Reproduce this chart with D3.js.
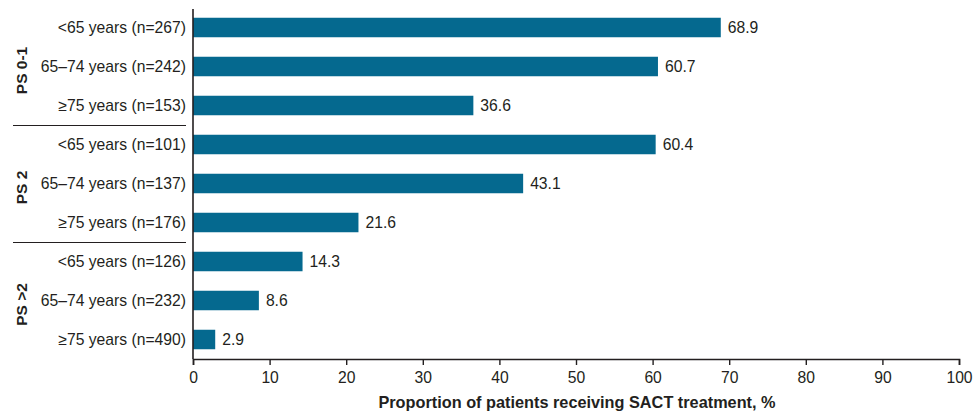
<!DOCTYPE html>
<html><head><meta charset="utf-8">
<script src="https://cdn.jsdelivr.net/npm/d3@7"></script>
<style>
body{margin:0;background:#fff;}
text{font-family:"Liberation Sans",Arial,sans-serif;fill:#231f20;}
</style></head>
<body><svg id="c" width="974" height="412"></svg>
<script>
const categories = ["<65 years (n=267)","65–74 years (n=242)","≥75 years (n=153)",
  "<65 years (n=101)","65–74 years (n=137)","≥75 years (n=176)",
  "<65 years (n=126)","65–74 years (n=232)","≥75 years (n=490)"];
const values = [68.9,60.7,36.6,60.4,43.1,21.6,14.3,8.6,2.9];
const groups = ["PS 0-1","PS 2","PS >2"];
const groupOf = [0,0,0,1,1,1,2,2,2];
const xTicks = [0,10,20,30,40,50,60,70,80,90,100];
const xTitle = "Proportion of patients receiving SACT treatment, %";

(function(){
const svg = d3.select("#c");
const mLeft = 193, mRight = 959, mTop = 8, mBottom = 359;
const fs = 15.7;
const x = d3.scaleLinear().domain([0,100]).range([mLeft,mRight]);
const idx = d3.range(categories.length);
const y = d3.scaleBand().domain(idx).range([mTop,mBottom]).paddingInner(0.5).paddingOuter(0.25);
const color = "#05698f";

svg.selectAll("rect.bar").data(idx).enter().append("rect")
  .attr("x", x(0)).attr("y", i=>y(i)).attr("width", i=>x(values[i])-x(0))
  .attr("height", y.bandwidth()).attr("fill", color);
svg.selectAll("text.val").data(idx).enter().append("text")
  .attr("x", i=>x(values[i])+7).attr("y", i=>y(i)+y.bandwidth()/2)
  .attr("dy","0.36em").attr("font-size",fs).text(i=>values[i].toFixed(1));
svg.selectAll("text.cat").data(idx).enter().append("text")
  .attr("x", 186).attr("y", i=>y(i)+y.bandwidth()/2).attr("dy","0.36em")
  .attr("text-anchor","end").attr("font-size",fs).text(i=>categories[i]);

const ax = svg.append("g").attr("transform",`translate(0,${mBottom})`)
  .call(d3.axisBottom(x).tickValues(xTicks).tickSize(6).tickSizeOuter(6).tickPadding(7));
ax.select(".domain").attr("stroke","#231f20").attr("stroke-width",1.6);
ax.selectAll(".tick line").attr("stroke","#231f20").attr("stroke-width",1.4);
ax.selectAll(".tick text").attr("font-size",fs).attr("font-family","Liberation Sans, Arial, sans-serif").attr("fill","#231f20");
svg.append("line").attr("x1",mLeft).attr("x2",mLeft).attr("y1",mTop+1).attr("y2",mBottom)
  .attr("stroke","#231f20").attr("stroke-width",1.6);

const step = y.step();
groups.forEach((g,gi)=>{
  const members = idx.filter(i=>groupOf[i]===gi);
  const first = members[0], last = members[members.length-1];
  const cy = (y(first)+y(last)+y.bandwidth())/2 + 4;
  svg.append("text").attr("transform",`translate(21,${cy}) rotate(-90)`)
    .attr("text-anchor","middle").attr("dy","0.36em").attr("font-size",15.5)
    .attr("font-weight","bold").text(g);
  if (gi < groups.length-1) {
    const sy = y(last)+y.bandwidth()+ (step - y.bandwidth())/2 + 0.5;
    svg.append("line").attr("x1",13).attr("x2",186).attr("y1",sy).attr("y2",sy)
      .attr("stroke","#231f20").attr("stroke-width",1);
  }
});

svg.append("text").attr("x",(mLeft+mRight)/2 + 1).attr("y",408).attr("text-anchor","middle")
  .attr("font-size",16.3).attr("font-weight","bold").text(xTitle);
})();
</script></body></html>
